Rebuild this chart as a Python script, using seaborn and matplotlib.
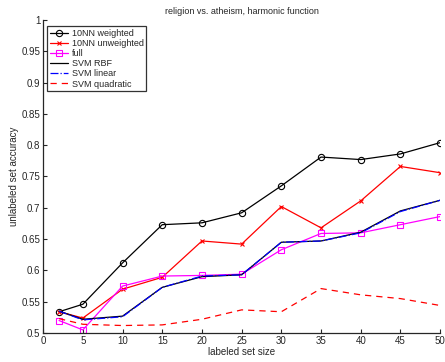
import matplotlib
matplotlib.use("Agg")
import matplotlib.pyplot as plt
import seaborn as sns
import pandas as pd

sizes = [2, 5, 10, 15, 20, 25, 30, 35, 40, 45, 50]
nn_weighted = [0.534, 0.546, 0.612, 0.673, 0.676, 0.692, 0.735, 0.781, 0.777, 0.786, 0.804]
nn_unweighted = [0.534, 0.524, 0.570, 0.589, 0.647, 0.642, 0.702, 0.668, 0.711, 0.766, 0.756]
full = [0.520, 0.505, 0.575, 0.591, 0.592, 0.594, 0.633, 0.659, 0.660, 0.673, 0.686]
svm_rbf = [0.535, 0.522, 0.527, 0.573, 0.590, 0.593, 0.645, 0.647, 0.661, 0.695, 0.712]
svm_linear = [0.535, 0.521, 0.526, 0.573, 0.591, 0.593, 0.645, 0.647, 0.660, 0.694, 0.712]
svm_quadratic = [0.523, 0.514, 0.512, 0.513, 0.522, 0.537, 0.534, 0.571, 0.561, 0.555, 0.544]

sns.set_style("ticks")
plt.rcParams['font.family'] = ['Liberation Sans', 'DejaVu Sans']
plt.rcParams['font.size'] = 7

fig = plt.figure(figsize=(4.45, 3.62), dpi=100)
ax = fig.add_axes([0.097, 0.080, 0.892, 0.865])

series = [
    ("10NN weighted", nn_weighted, dict(color="black", marker="o", linestyle="-", markerfacecolor="none", markeredgecolor="black", markersize=4.5, markeredgewidth=0.8)),
    ("10NN unweighted", nn_unweighted, dict(color="red", marker="x", linestyle="-", markeredgecolor="red", markersize=3.5, markeredgewidth=0.8)),
    ("full", full, dict(color="magenta", marker="s", linestyle="-", markerfacecolor="none", markeredgecolor="magenta", markersize=4, markeredgewidth=0.8)),
    ("SVM RBF", svm_rbf, dict(color="black", linestyle="-", marker="None")),
    ("SVM linear", svm_linear, dict(color="blue", linestyle="-.", marker="None")),
    ("SVM quadratic", svm_quadratic, dict(color="red", linestyle=(0, (5, 4)), marker="None")),
]
handles = []
for name, vals, kw in series:
    df = pd.DataFrame({"x": sizes, "y": vals})
    n0 = len(ax.lines)
    sns.lineplot(data=df, x="x", y="y", ax=ax, color=kw["color"], linewidth=0.9)
    new = [l for l in ax.lines[n0:] if len(l.get_xdata()) == len(sizes)]
    ln = new[0]
    ln.set(**kw)
    ln.set_linewidth(0.9)
    handles.append(ln)

ax.set_xlim(0, 50)
ax.set_ylim(0.5, 1.0)
ax.set_xticks(range(0, 51, 5))
ax.set_yticks([0.5, 0.55, 0.6, 0.65, 0.7, 0.75, 0.8, 0.85, 0.9, 0.95, 1.0])
ax.set_yticklabels(["0.5", "0.55", "0.6", "0.65", "0.7", "0.75", "0.8", "0.85", "0.9", "0.95", "1"])
ax.tick_params(direction="in", length=3, width=0.8, labelsize=7, pad=2)
for s in ["top", "right"]:
    ax.spines[s].set_visible(False)
for s in ["left", "bottom"]:
    ax.spines[s].set_linewidth(0.9)
ax.set_xlabel("labeled set size", fontsize=7, labelpad=1)
ax.set_ylabel("unlabeled set accuracy", fontsize=7, labelpad=2)
ax.set_title("religion vs. atheism, harmonic function", fontsize=6.5, pad=4)

labels = [s[0] for s in series]
leg = ax.legend(handles, labels, loc="upper left", bbox_to_anchor=(0.006, 0.985), frameon=True, fancybox=False,
                edgecolor="black", fontsize=6.5, handlelength=2.0, labelspacing=0.12,
                borderpad=0.3, handletextpad=0.4, borderaxespad=0.2)
leg.get_frame().set_linewidth(0.9)

fig.savefig("out.png", dpi=100)
